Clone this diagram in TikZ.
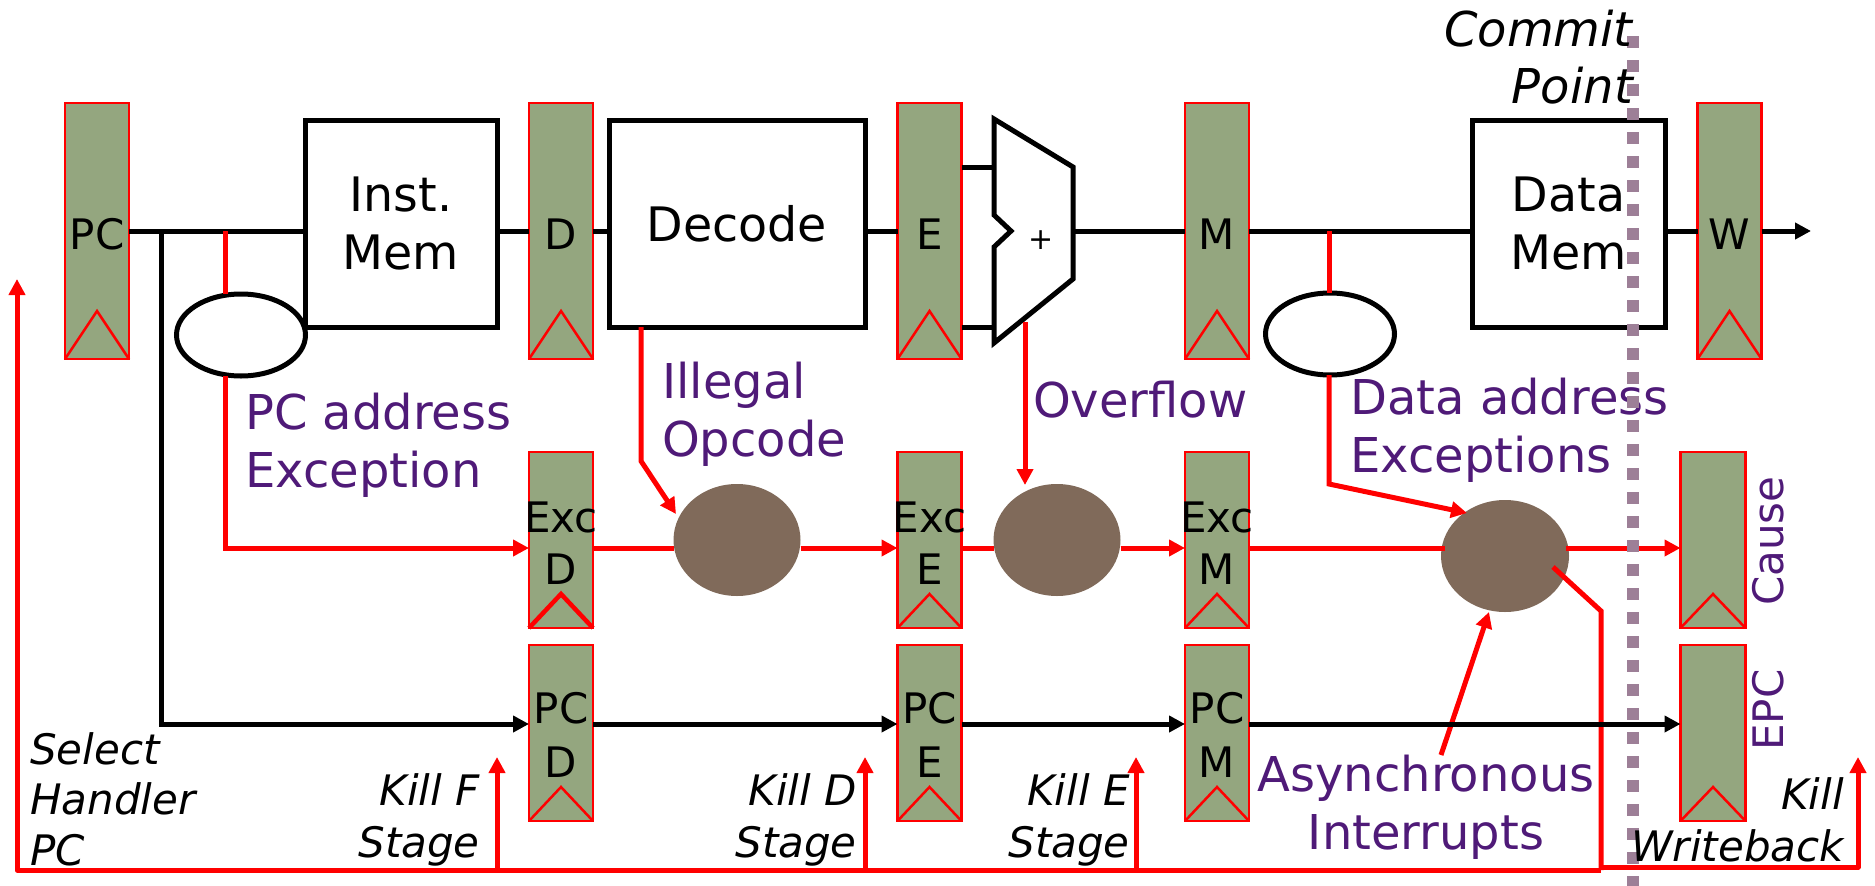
\documentclass[tikz,border=0pt]{standalone}
\usepackage{fontspec}
\setmainfont{DejaVu Sans}
\usetikzlibrary{arrows.meta,shapes.geometric,calc}
\definecolor{regfill}{HTML}{94A67F}
\definecolor{blob}{HTML}{806A5A}
\definecolor{purp}{HTML}{4F1A78}
\definecolor{dashc}{HTML}{9D7F97}
\tikzset{
  regbox/.style={draw=red,fill=regfill,line width=2.5pt,inner sep=0pt,outer sep=0pt},
  block/.style={draw=black,fill=white,line width=5pt,inner sep=0pt,outer sep=0pt,align=center,font=\fontsize{47.5}{57.5}\selectfont},
  hole/.style={ellipse,draw=black,fill=white,line width=5pt,inner sep=0pt,outer sep=0pt},
  blobby/.style={ellipse,fill=blob,inner sep=0pt,outer sep=0pt},
  clock/.style={draw=red,line width=2.5pt,line join=miter},
  wire/.style={draw=black,line width=5pt},
  rwire/.style={draw=red,line width=5pt},
  arr/.style={-{Triangle[length=16pt,width=16pt]}},
  reglab/.style={inner sep=0pt,font=\fontsize{42}{52}\selectfont,black},
  plabel/.style={inner sep=0pt,purp,font=\fontsize{48}{58}\selectfont,align=left},
  rlabel/.style={inner sep=0pt,purp,font=\fontsize{42}{52}\selectfont,rotate=90},
  ilabel/.style={inner sep=0pt,black,font=\fontsize{42}{50.5}\selectfont\itshape},
  klabel/.style={ilabel,font=\fontsize{42}{52}\selectfont\itshape,align=right,anchor=east},
}
\newcommand{\clk}[2]{\draw[clock] (#1.south west) -- ([yshift=#2pt]#1.south) -- (#1.south east);}
\newcommand{\dn}[1]{\raisebox{-4pt}{#1}}
\begin{document}
\begin{tikzpicture}[x=1pt,y=-1pt]
\useasboundingbox (0,0) rectangle (1875,886);
% rails
\coordinate (main) at (0,231);
\coordinate (rrow) at (0,548);
\coordinate (brow) at (0,724);
\coordinate (bot) at (0,870);
% top-row registers
\node[regbox,minimum width=64pt,minimum height=256pt] (pc) at (97,231) {};
\node[regbox,minimum width=64pt,minimum height=256pt] (d) at (561,231) {};
\node[regbox,minimum width=64pt,minimum height=256pt] (e) at (929.5,231) {};
\node[regbox,minimum width=64pt,minimum height=256pt] (m) at (1217,231) {};
\node[regbox,minimum width=64pt,minimum height=256pt] (w) at (1729.5,231) {};
\foreach \n in {pc,d,e,m,w}{\clk{\n}{48}}
% lower registers
\node[regbox,minimum width=64pt,minimum height=176pt] (excd) at (561,540) {};
\node[regbox,minimum width=64pt,minimum height=176pt] (exce) at (929.5,540) {};
\node[regbox,minimum width=64pt,minimum height=176pt] (excm) at (1217,540) {};
\node[regbox,minimum width=65pt,minimum height=176pt] (cause) at (1713,540) {};
\node[regbox,minimum width=64pt,minimum height=176pt] (pcd) at (561,733) {};
\node[regbox,minimum width=64pt,minimum height=176pt] (pce) at (929.5,733) {};
\node[regbox,minimum width=64pt,minimum height=176pt] (pcm) at (1217,733) {};
\node[regbox,minimum width=65pt,minimum height=176pt] (epc) at (1713,733) {};
\foreach \n in {exce,excm,cause,pcd,pce,pcm,epc}{\clk{\n}{34}}
\draw[clock,line width=4.5pt] (excd.south west) -- ([yshift=34pt]excd.south) -- (excd.south east);
% blocks
\node[block,minimum width=192pt,minimum height=207pt] (imem) at (401,223.5) {\dn{Inst.}\\\dn{Mem}};
\node[block,minimum width=256pt,minimum height=207pt] (dec) at (737,223.5) {Decode};
\node[block,minimum width=193pt,minimum height=207pt] (dmem) at (1568.5,223.5) {\dn{Data}\\\dn{Mem}};
% adder
\coordinate (add1) at (994,167);
\coordinate (add2) at (994,327);
\coordinate (addout) at (1073,231);
\filldraw[fill=white,draw=black,line width=5pt,line join=miter]
  (994,119) -- (1073,167) -- (1073,279) -- (994,343) -- (994,247) -- (1011,231) -- (994,215) -- cycle;
\node[inner sep=0pt,font=\fontsize{30}{40}\selectfont] (plus) at (1041,240) {+};
% holes
\node[hole,minimum width=129pt,minimum height=82pt] (h1) at (241,335) {};
\node[hole,minimum width=129pt,minimum height=82pt] (h2) at (1330,334) {};
% blobs
\node[blobby,minimum width=127pt,minimum height=112pt] (b1) at (737,540) {};
\node[blobby,minimum width=127pt,minimum height=112pt] (b2) at (1057,540) {};
\node[blobby,minimum width=128pt,minimum height=112pt] (b3) at (1505,556) {};
% black wires
\draw[wire] (pc.east |- main) -- (imem.west |- main);
\draw[wire] (imem.east |- main) -- (d.west |- main);
\draw[wire] (d.east |- main) -- (dec.west |- main);
\draw[wire] (dec.east |- main) -- (e.west |- main);
\draw[wire] (e.east |- add1) -- (add1);
\draw[wire] (e.east |- add2) -- (add2);
\draw[wire] (addout) -- (m.west |- main);
\draw[wire] (m.east |- main) -- (dmem.west |- main);
\draw[wire] (dmem.east |- main) -- (w.west |- main);
\coordinate (wout) at (1811,231);
\draw[wire,arr] (w.east |- main) -- (wout);
\coordinate (tap) at (161,231);
\draw[wire,arr] (tap) -- (tap |- brow) -- (pcd.west |- brow);
\draw[wire,arr] (pcd.east |- brow) -- (pce.west |- brow);
\draw[wire,arr] (pce.east |- brow) -- (pcm.west |- brow);
% red wires
\coordinate (t1) at (225,231);
\draw[rwire] (t1) -- (t1 |- h1.north);
\draw[rwire,arr] (t1 |- h1.south) -- (t1 |- rrow) -- (excd.west |- rrow);
\draw[rwire] (excd.east |- rrow) -- (b1.west |- rrow);
\draw[rwire,arr] (b1.east |- rrow) -- (exce.west |- rrow);
\draw[rwire] (exce.east |- rrow) -- (b2.west |- rrow);
\draw[rwire,arr] (b2.east |- rrow) -- (excm.west |- rrow);
\draw[rwire] (excm.east |- rrow) -- (1445,548);
\draw[rwire,arr] (1566,548) -- (cause.west |- rrow);
% illegal opcode
\coordinate (d1) at (641,327);
\coordinate (d2) at (641,461);
\coordinate (d3) at (676,514);
\draw[rwire,arr] (d1) -- (d2) -- (d3);
% overflow
\coordinate (o1) at (1025,322);
\draw[rwire,arr] (o1) -- (1025,485);
% data exceptions
\coordinate (t2) at (1329,231);
\draw[rwire] (t2) -- (t2 |- h2.north);
\draw[rwire,arr] (t2 |- h2.south) -- (1329,484) -- (1467,513);
% async
\coordinate (as) at (1441,755);
\coordinate (asend) at (1489,612);
\draw[rwire,arr] (as) -- (asend);
% bottom rail
\coordinate (i1) at (1553,567);
\coordinate (i2) at (1601,611);
\coordinate (i3) at (1601,870);
\draw[rwire] (i1) -- (i2) -- (i3);
\coordinate (sel) at (17,279);
\draw[rwire,arr,line join=round] (i3) -- (17,870) -- (sel);
\draw[rwire,arr] (497,870) -- (497,757);
\draw[rwire,arr] (865,870) -- (865,757);
\draw[rwire,arr] (1136,870) -- (1136,757);
% register labels
\node[reglab] (lpc) at (97,234) {PC};
\node[reglab] (ld) at (561,234) {D};
\node[reglab] (le) at (929.5,234) {E};
\node[reglab] (lm) at (1217,234) {M};
\node[reglab] (lw) at (1729.5,234) {W};
\foreach \n/\a/\b/\X in {xd/Exc/D/561,xe/Exc/E/929.5,xm/Exc/M/1217}{
  \node[reglab] (l\n) at (\X,517) {\a};
  \node[reglab] (m\n) at (\X,569) {\b};
}
\foreach \n/\b/\X in {pd/D/561,pe/E/929.5,pm/M/1217}{
  \node[reglab] (l\n) at (\X,708) {PC};
  \node[reglab] (m\n) at (\X,762) {\b};
}
% purple labels
\node[plabel,anchor=west] (tpc) at (245,445) {PC address\\Exception};
\node[plabel,anchor=west] (till) at (662,414) {Illegal\\Opcode};
\node[plabel,anchor=west] (tov) at (1033,400) {Overflow};
\node[plabel,anchor=west] (tda) at (1350,430) {Data address\\Exceptions};
\node[plabel,align=center] (tas) at (1426,807) {Asynchronous\\Interrupts};
\node[rlabel] (tca) at (1768,541) {Cause};
\node[rlabel] (tep) at (1768,710) {EPC};
% commit line
\coordinate (c1) at (1633,36);
\coordinate (c2) at (1633,886);
\draw[dashc,line width=12pt,dash pattern=on 12pt off 12pt] (c1) -- (c2);
% wires over the commit line
\draw[wire,arr] (pcm.east |- brow) -- (epc.west |- brow);
\draw[rwire,arr,line join=round] (1601,867) -- (1858,867) -- (1858,757);
% italic labels
\node[ilabel,align=right,anchor=east,font=\fontsize{48}{57}\selectfont\itshape] (tcm) at (1633,57) {Commit\\Point};
\node[ilabel,align=left,anchor=west] (tsel) at (30,799) {Select\\Handler\\PC};
\node[klabel] (tkf) at (480,820) {Kill F\\Stage};
\node[klabel] (tkd) at (857,820) {Kill D\\Stage};
\node[klabel] (tke) at (1130,820) {Kill E\\Stage};
\node[klabel] (tkw) at (1844,820) {Kill\\Writeback};
\end{tikzpicture}
\end{document}
